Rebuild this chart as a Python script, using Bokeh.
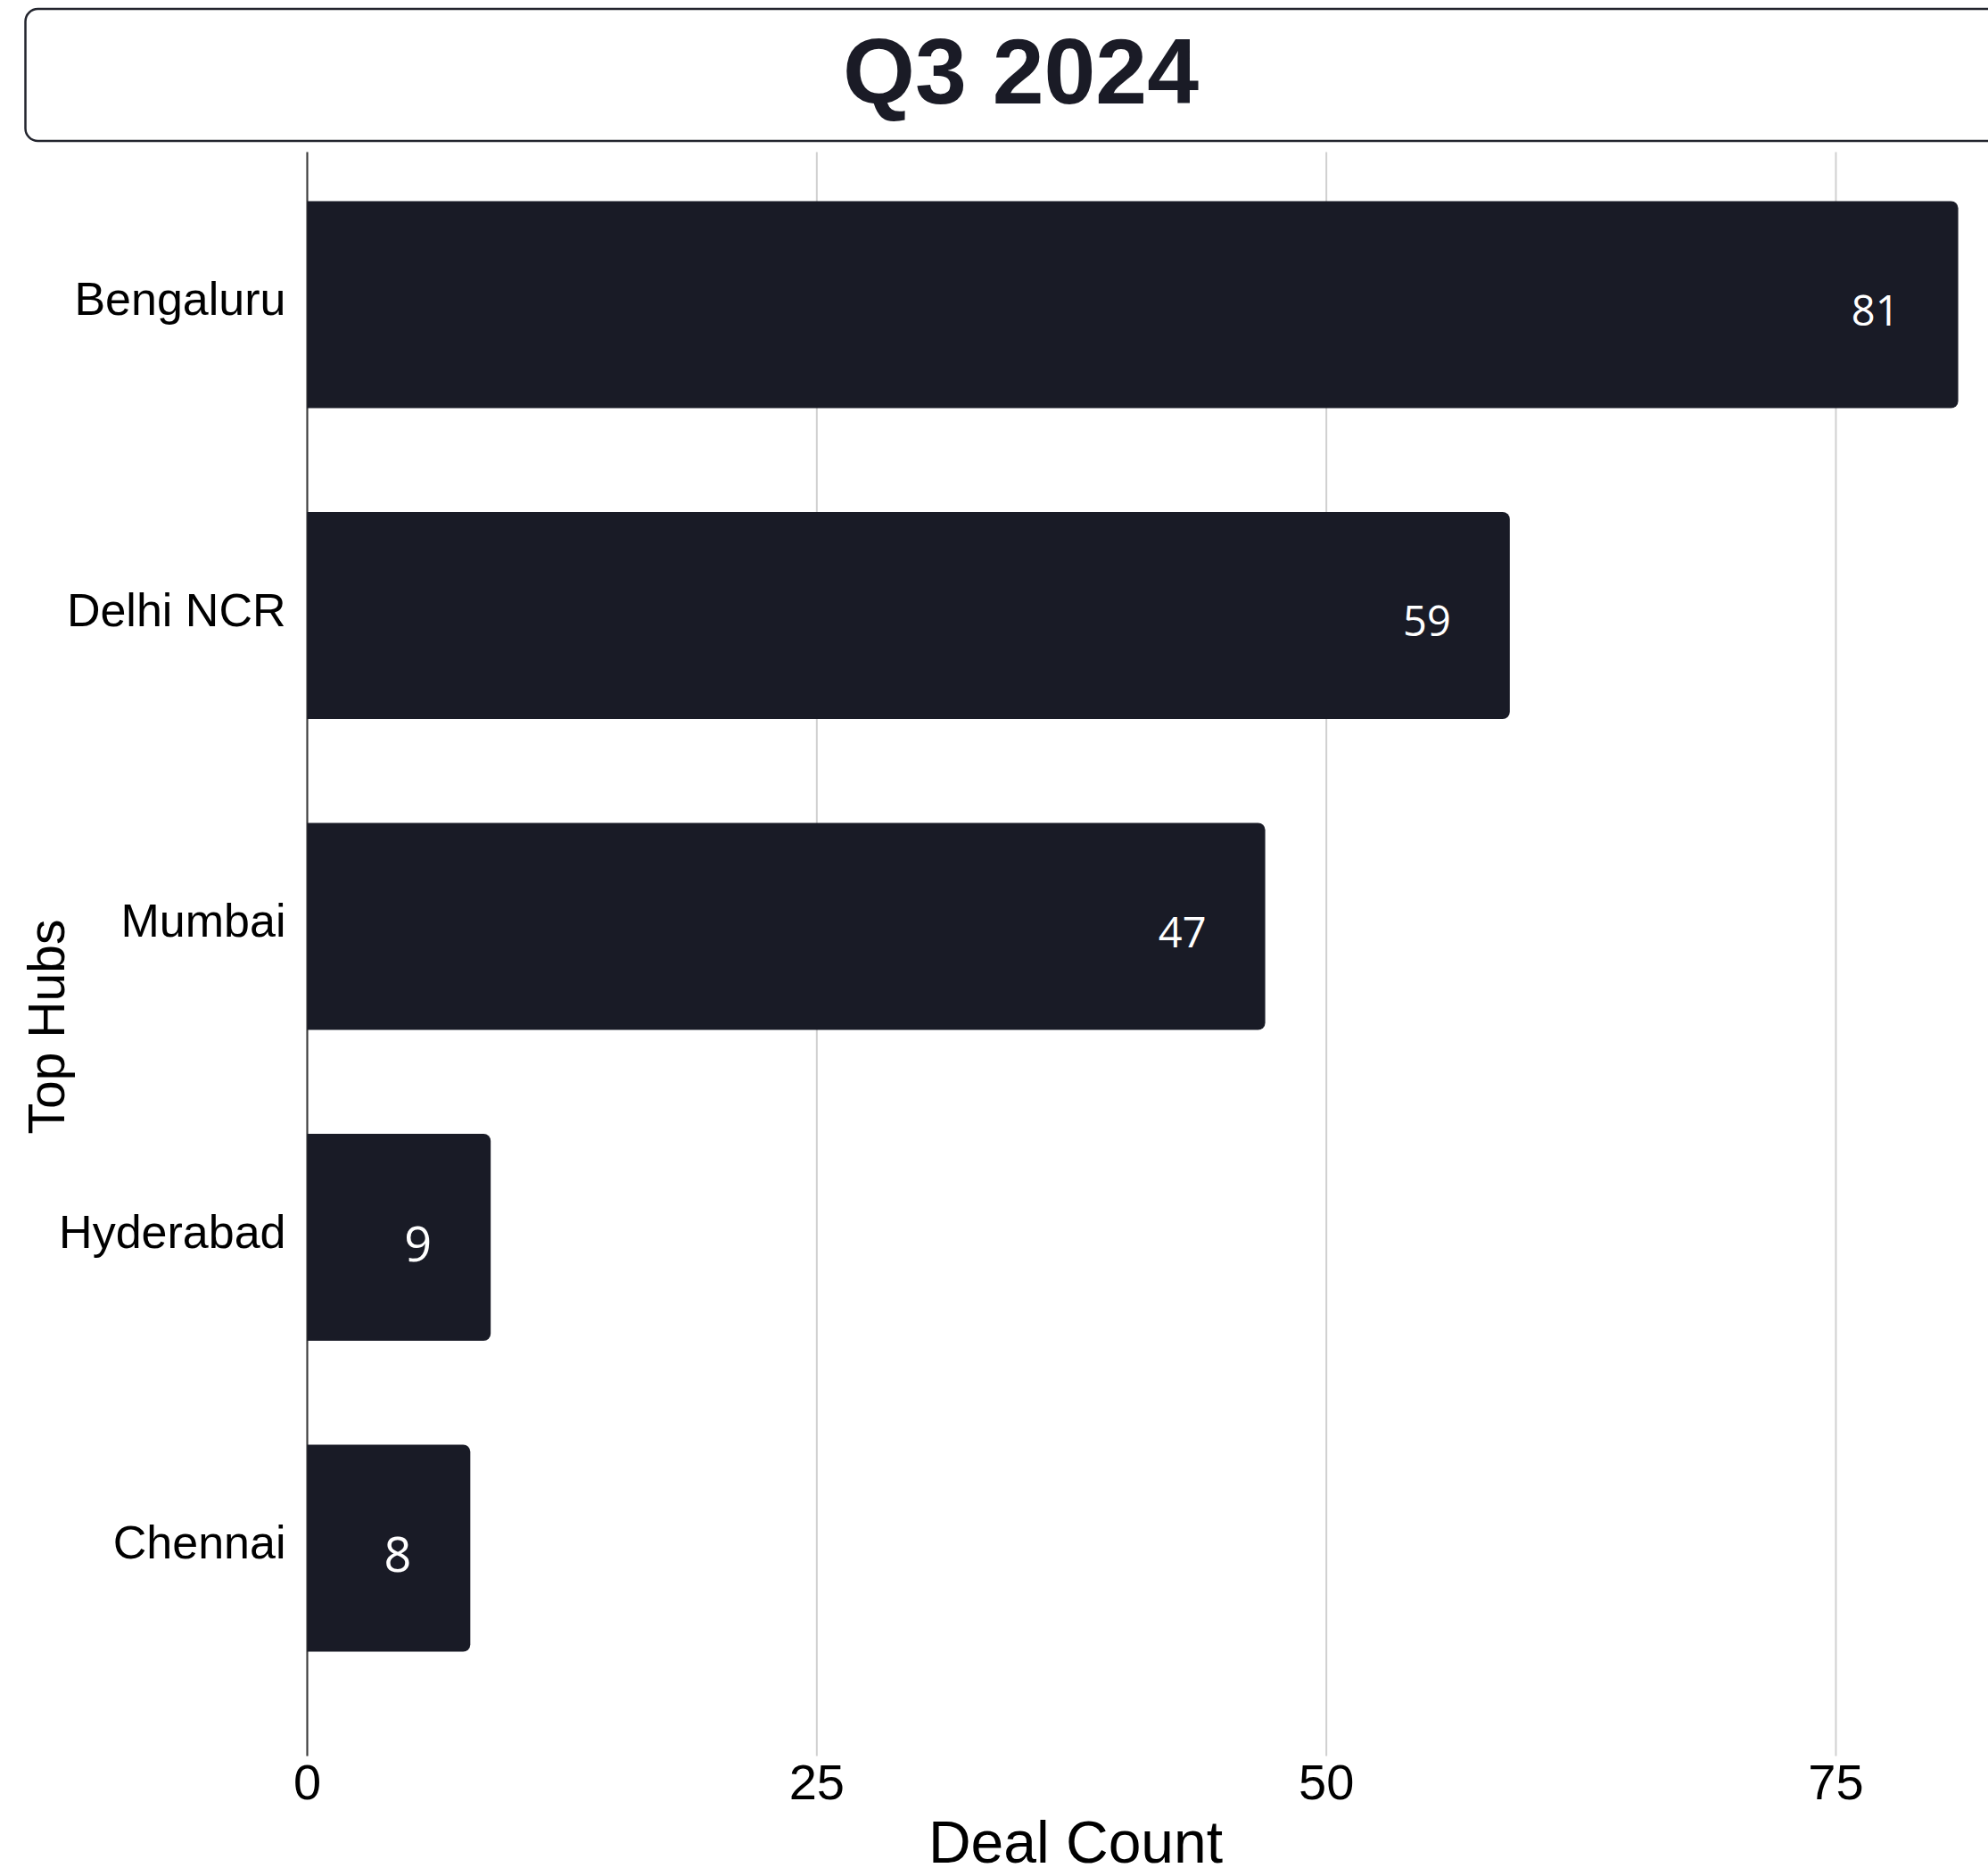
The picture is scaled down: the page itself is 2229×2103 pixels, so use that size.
import math
from bokeh.plotting import figure
from bokeh.models import Range1d, FixedTicker, ColumnDataSource
from bokeh.core.properties import value
from bokeh.embed import file_html
from bokeh.resources import INLINE

# ---- data ----
hubs = ["Bengaluru", "Delhi NCR", "Mumbai", "Hyderabad", "Chennai"]
deals = [81, 59, 47, 9, 8]
x_ticks = [0, 25, 50, 75]
title_text = "Q3 2024"
x_title = "Deal Count"
y_title = "Top Hubs"

BAR = "#191b26"
FONT = "Liberation Sans"

# ---- layout helpers (page pixel -> data) ----
W, H = 2229, 2103           # canvas, placed at page (0, 0)
SX, SY = 22.853, 348.5      # px per unit
ZX, ZY = 344, 1735          # page px of x=0 and of the lowest category


def dx(px):
    return (px - ZX) / SX


def dy(py):
    return (ZY - py) / SY


n = len(hubs)
pos = [n - 1 - i for i in range(n)]
sizes = [54 if len(str(v)) == 1 else 47 for v in deals]
src = ColumnDataSource(dict(y=pos, v=deals, lab=[str(v) for v in deals],
                            fs=["%dpx" % s for s in sizes],
                            off=[0.13 * s for s in sizes]))

p = figure(width=W, height=H, x_range=Range1d(dx(0), dx(W)),
           y_range=Range1d(dy(H), dy(0)), toolbar_location=None,
           output_backend="svg", min_border=0, y_axis_location=None)
p.outline_line_color = None
p.background_fill_color = "white"
p.border_fill_color = "white"
p.xgrid.grid_line_color = None
p.ygrid.grid_line_color = None

plot_top, plot_bottom = dy(170), dy(1968)

# title box + title
p.quad(left=dx(28), right=dx(2320), top=dy(9.5), bottom=dy(157.5),
       fill_color="white", line_color="#23252e", line_width=2.5,
       border_radius=14)
p.text(x=[dx(1144)], y=[dy(79)], text=[title_text], text_align="center",
       text_baseline="middle", text_font=value(FONT),
       text_font_style="bold", text_font_size="104px", text_color="#1a1b26")

# grid lines and y axis line
p.segment(x0=x_ticks, x1=x_ticks, y0=[plot_bottom] * len(x_ticks),
          y1=[plot_top] * len(x_ticks), line_color="#d0d0d0", line_width=2)
p.segment(x0=[0], x1=[0], y0=[plot_bottom], y1=[plot_top],
          line_color="#3a3a3a", line_width=2)

# bars and value labels
p.hbar(y="y", left=0, right="v", height=0.666, source=src, fill_color=BAR,
       line_color=None, border_radius=(0, 8, 8, 0))
p.text(x="v", y="y", text="lab", source=src, x_offset=-66, y_offset="off",
       text_align="right", text_baseline="middle", text_color="white",
       text_font=value("Open Sans"), text_font_size="fs")

# category labels
p.text(x=[0] * n, y=pos, text=hubs, x_offset=-24, y_offset=-6.5,
       text_align="right", text_baseline="middle", text_font=value(FONT),
       text_font_size="52px", text_color="black")

# x axis at the bottom of the plotting area
p.xaxis.fixed_location = plot_bottom
p.xaxis.ticker = FixedTicker(ticks=x_ticks)
p.xaxis.axis_line_color = None
p.xaxis.major_tick_line_color = None
p.xaxis.minor_tick_line_color = None
p.xaxis.major_label_standoff = 4
p.xaxis.major_label_text_font = FONT
p.xaxis.major_label_text_font_size = "56px"
p.xaxis.major_label_text_color = "black"

# axis titles
p.text(x=[dx(1205.5)], y=[dy(2064)], text=[x_title], text_align="center",
       text_baseline="middle", text_font=value(FONT),
       text_font_size="66px", text_color="black")
p.text(x=[dx(51)], y=[dy(1150.5)], text=[y_title], angle=math.pi / 2,
       text_align="center", text_baseline="middle", text_font=value(FONT),
       text_font_size="57px", text_color="black")

open("out.html", "w").write(file_html(p, INLINE))
